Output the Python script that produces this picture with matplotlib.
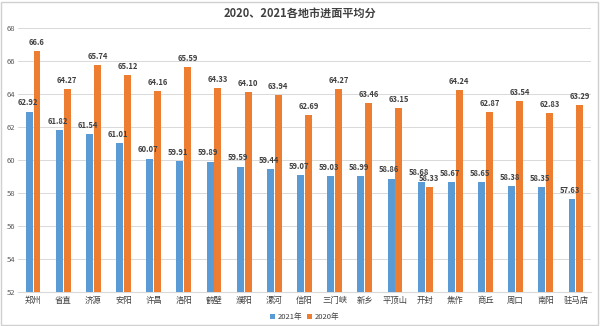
import matplotlib
matplotlib.use("Agg")
import matplotlib.pyplot as plt
import numpy as np

plt.rcParams["font.family"] = ["Noto Sans CJK SC", "DejaVu Sans"]

# -----------------------------
# Data
# -----------------------------
cities = ["郑州", "省直", "济源", "安阳", "许昌", "洛阳", "鹤壁", "濮阳", "漯河", "信阳",
          "三门峡", "新乡", "平顶山", "开封", "焦作", "商丘", "周口", "南阳", "驻马店"]
score_2021 = [62.92, 61.82, 61.54, 61.01, 60.07, 59.91, 59.89, 59.59, 59.44, 59.07,
              59.03, 58.99, 58.86, 58.68, 58.67, 58.65, 58.38, 58.35, 57.63]
score_2020 = [66.6, 64.27, 65.74, 65.12, 64.16, 65.59, 64.33, 64.10, 63.94, 62.69,
              64.27, 63.46, 63.15, 58.33, 64.24, 62.87, 63.54, 62.83, 63.29]
labels_2021 = ["62.92", "61.82", "61.54", "61.01", "60.07", "59.91", "59.89", "59.59", "59.44", "59.07",
               "59.03", "58.99", "58.86", "58.68", "58.67", "58.65", "58.38", "58.35", "57.63"]
labels_2020 = ["66.6", "64.27", "65.74", "65.12", "64.16", "65.59", "64.33", "64.10", "63.94", "62.69",
               "64.27", "63.46", "63.15", "58.33", "64.24", "62.87", "63.54", "62.83", "63.29"]

blue = "#5B9BD5"
orange = "#ED7D31"
base = 52

fig = plt.figure(figsize=(6, 3.26), dpi=100)
ax = fig.add_axes([0.03, 0.105, 0.955, 0.81])

x = np.arange(len(cities))
w = 0.23
ax.bar(x - 0.13, np.array(score_2021) - base, w, bottom=base, color=blue, label="2021年", zorder=3)
ax.bar(x + 0.13, np.array(score_2020) - base, w, bottom=base, color=orange, label="2020年", zorder=3)

for xi, v, s in zip(x, score_2021, labels_2021):
    ax.text(xi - 0.19, v + 0.25, s, ha="center", va="bottom", fontsize=5.5,
            fontweight="bold", color="#404040", zorder=4)
for xi, v, s in zip(x, score_2020, labels_2020):
    ax.text(xi + 0.13, v + 0.25, s, ha="center", va="bottom", fontsize=5.5,
            fontweight="bold", color="#404040", zorder=4)

ax.set_ylim(52, 68)
ax.set_xlim(-0.5, len(cities) - 0.5)
ax.set_yticks(np.arange(52, 69, 2))
ax.tick_params(axis="y", labelsize=5.5, colors="#595959", length=0, pad=2)
ax.set_xticks(x)
ax.set_xticklabels(cities, fontsize=6, color="#404040")
ax.tick_params(axis="x", length=0, pad=3)
ax.grid(axis="y", color="#D9D9D9", linewidth=0.7, zorder=0)
for sp in ["top", "right", "left"]:
    ax.spines[sp].set_visible(False)
ax.spines["bottom"].set_color("#D9D9D9")

fig.text(0.5, 0.96, "2020、2021各地市进面平均分", ha="center", va="center",
         fontsize=8, fontweight="bold", color="#404040")

ax.legend(loc="upper center", bbox_to_anchor=(0.5, -0.055), ncol=2, frameon=False,
          fontsize=5.5, handlelength=0.7, handleheight=0.7, columnspacing=0.6,
          handletextpad=0.3, labelcolor="#404040")

fig.patches.append(plt.Rectangle((0.002, 0.004), 0.994, 0.99, transform=fig.transFigure,
                                 fill=False, edgecolor="#D0D0D0", linewidth=1))

plt.savefig("out.png", dpi=100)
